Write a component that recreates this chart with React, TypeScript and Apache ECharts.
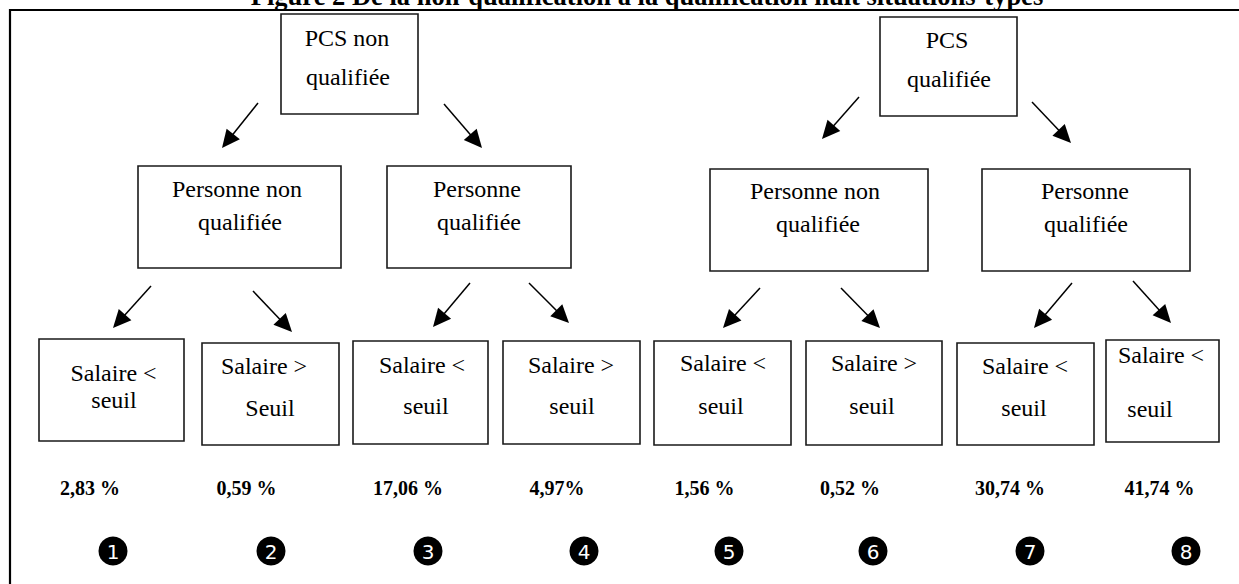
import React, { useEffect, useRef } from "react";
import * as echarts from "echarts";

// ---- Data ----
const titleText = "Figure 2 De la non-qualification à la qualification huit situations-types";
const level1Labels = [["PCS non", "qualifiée"], ["PCS", "qualifiée"]];
const level2Labels = [
  ["Personne non", "qualifiée"],
  ["Personne", "qualifiée"],
  ["Personne non", "qualifiée"],
  ["Personne", "qualifiée"],
];
const level3Labels = [
  ["Salaire <", "seuil"],
  ["Salaire >", "Seuil"],
  ["Salaire <", "seuil"],
  ["Salaire >", "seuil"],
  ["Salaire <", "seuil"],
  ["Salaire >", "seuil"],
  ["Salaire <", "seuil"],
  ["Salaire <", "seuil"],
];
const shareValues = [2.83, 0.59, 17.06, 4.97, 1.56, 0.52, 30.74, 41.74];
const shareSuffix = [" %", " %", " %", "%", " %", " %", " %", " %"];
const situationNumbers = ["1", "2", "3", "4", "5", "6", "7", "8"];

// ---- Layout (positions only) ----
const level1Boxes = [[281, 14, 418, 114], [880, 17, 1017, 116]];
const level1Text = [[[347, 38], [348, 77]], [[947, 40], [949, 79]]];
const level2Boxes = [[138, 166, 341, 268], [387, 166, 571, 268], [710, 169, 928, 271], [982, 169, 1190, 271]];
const level2Text = [
  [[237, 189], [240, 222]],
  [[477, 189], [479, 222]],
  [[815, 191], [818, 224]],
  [[1085, 191], [1086, 224]],
];
const level3Boxes = [
  [39, 339, 184, 441], [202, 343, 339, 445], [353, 341, 488, 444], [503, 341, 640, 444],
  [654, 341, 791, 445], [806, 341, 942, 445], [957, 343, 1094, 445], [1106, 340, 1219, 442],
];
const level3Text = [
  [[113.5, 373], [114, 400]],
  [[264, 366], [270, 408]],
  [[422, 365], [426, 406]],
  [[571, 365], [572, 406]],
  [[723, 363], [721, 406]],
  [[874, 363], [872, 406]],
  [[1025, 366], [1024, 408]],
  [[1161, 355], [1150, 409]],
];
const shareX = [90, 246.5, 408, 557, 704.5, 850, 1010, 1159.5];
const shareY = 488;
const badgeX = [113, 271, 428, 584, 729, 873, 1030, 1186];
const badgeY = 551;
const arrows = [
  [258, 103, 222, 148], [444, 104, 482, 148],
  [859, 97, 822, 139], [1032, 102, 1071, 143],
  [151, 286, 113, 328], [253, 291, 292, 332],
  [470, 283, 433, 327], [529, 283, 569, 323],
  [760, 288, 723, 328], [841, 288, 880, 328],
  [1072, 283, 1034, 328], [1133, 281, 1171, 323],
];

const SERIF = "'Liberation Serif', 'Times New Roman', serif";

function boxEl(b: number[]) {
  return {
    type: "rect",
    shape: { x: b[0], y: b[1], width: b[2] - b[0], height: b[3] - b[1] },
    style: { fill: "#fff", stroke: "#1a1a1a", lineWidth: 1.6 },
  };
}

function textEl(t: string, p: number[], size: number, bold = false) {
  return {
    type: "text",
    x: p[0],
    y: p[1],
    style: {
      text: t,
      fill: "#000",
      font: `${bold ? "bold " : ""}${size}px ${SERIF}`,
      textAlign: "center",
      textVerticalAlign: "middle",
    },
  };
}

function arrowEls(a: number[]) {
  const [x1, y1, x2, y2] = a;
  const dx = x2 - x1, dy = y2 - y1;
  const len = Math.sqrt(dx * dx + dy * dy);
  const ux = dx / len, uy = dy / len;
  const headL = 18, headW = 8.5;
  const bx = x2 - ux * headL, by = y2 - uy * headL;
  const px = -uy, py = ux;
  return [
    {
      type: "line",
      shape: { x1, y1, x2: bx + ux * 2, y2: by + uy * 2 },
      style: { stroke: "#000", lineWidth: 1.5 },
    },
    {
      type: "polygon",
      shape: {
        points: [
          [x2, y2],
          [bx + px * headW, by + py * headW],
          [bx - px * headW, by - py * headW],
        ],
      },
      style: { fill: "#000" },
    },
  ];
}

export default function App() {
  const ref = useRef<HTMLDivElement>(null);
  useEffect(() => {
    if (!ref.current) return;
    const chart = echarts.init(ref.current, null, { renderer: "svg" });
    const elements: any[] = [];
    // frame
    elements.push({
      type: "rect",
      shape: { x: 10, y: 10, width: 1260, height: 600 },
      style: { fill: "none", stroke: "#000", lineWidth: 2.2 },
    });
    // title (cut off by the top edge, as in the source)
    elements.push({
      type: "text",
      x: 647,
      y: -4.5,
      style: {
        text: titleText,
        fill: "#000",
        font: `bold 26.5px ${SERIF}`,
        textAlign: "center",
        textVerticalAlign: "middle",
      },
    });
    level1Boxes.forEach((b, i) => {
      elements.push(boxEl(b));
      level1Labels[i].forEach((t, j) => elements.push(textEl(t, level1Text[i][j], 24)));
    });
    level2Boxes.forEach((b, i) => {
      elements.push(boxEl(b));
      level2Labels[i].forEach((t, j) => elements.push(textEl(t, level2Text[i][j], 24)));
    });
    level3Boxes.forEach((b, i) => {
      elements.push(boxEl(b));
      level3Labels[i].forEach((t, j) => elements.push(textEl(t, level3Text[i][j], 24)));
    });
    arrows.forEach((a) => elements.push(...arrowEls(a)));
    shareValues.forEach((v, i) => {
      const label = v.toFixed(2).replace(".", ",") + shareSuffix[i];
      elements.push(textEl(label, [shareX[i], shareY], 20, true));
    });
    situationNumbers.forEach((n, i) => {
      elements.push({
        type: "circle",
        shape: { cx: badgeX[i], cy: badgeY, r: 14.5 },
        style: { fill: "#000" },
      });
      elements.push({
        type: "text",
        x: badgeX[i],
        y: badgeY + 0.5,
        style: {
          text: n,
          fill: "#fff",
          font: "20px 'DejaVu Sans', sans-serif",
          textAlign: "center",
          textVerticalAlign: "middle",
        },
      });
    });
    chart.setOption({
      animation: false,
      backgroundColor: "#fff",
      graphic: { elements },
    });
    return () => chart.dispose();
  }, []);
  return (
    <div
      ref={ref}
      style={{ position: "fixed", left: 0, top: 0, width: 1239, height: 584, background: "#fff" }}
    />
  );
}
